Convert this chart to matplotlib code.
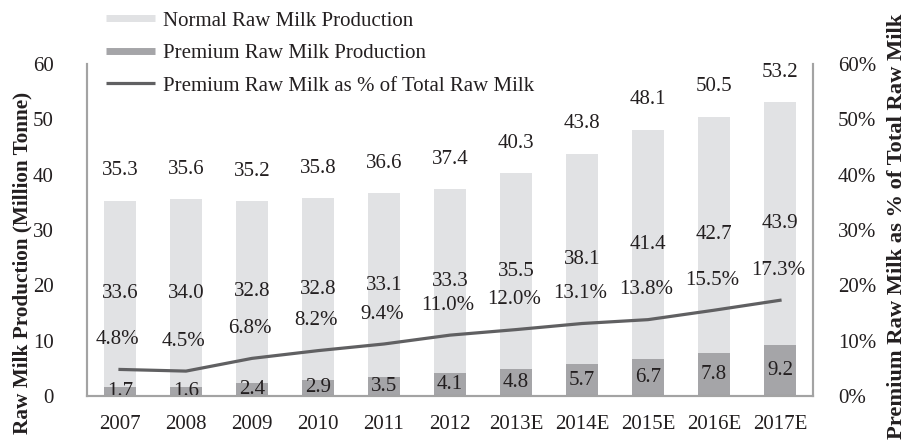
import matplotlib
matplotlib.use("Agg")
import matplotlib.pyplot as plt
from matplotlib.lines import Line2D
import numpy as np

years = ["2007", "2008", "2009", "2010", "2011", "2012",
         "2013E", "2014E", "2015E", "2016E", "2017E"]
premium = [1.7, 1.6, 2.4, 2.9, 3.5, 4.1, 4.8, 5.7, 6.7, 7.8, 9.2]
normal = [33.6, 34.0, 32.8, 32.8, 33.1, 33.3, 35.5, 38.1, 41.4, 42.7, 43.9]
totals = [35.3, 35.6, 35.2, 35.8, 36.6, 37.4, 40.3, 43.8, 48.1, 50.5, 53.2]
premium_share = [4.8, 4.5, 6.8, 8.2, 9.4, 11.0, 12.0, 13.1, 13.8, 15.5, 17.3]

plt.rcParams["font.family"] = ["Liberation Serif", "DejaVu Serif"]
TXT = "#231f20"
FS = 15
C_NORMAL = "#e1e2e4"
C_PREMIUM = "#a5a5a8"
C_LINE = "#606062"
C_SPINE = "#a3a3a3"

fig = plt.figure(figsize=(9.07, 4.47), dpi=100)
ax = fig.add_axes([87 / 907, 1 - 396 / 447, (813 - 87) / 907, (396 - 64) / 447])
ax2 = ax.twinx()

x = np.arange(len(years))
w = 0.48
ax.bar(x, premium, width=w, color=C_PREMIUM, zorder=2)
ax.bar(x, normal, width=w, bottom=premium, color=C_NORMAL, zorder=2)

ax.set_xlim(-0.5, len(years) - 0.5)
ax.set_ylim(0, 60)
ax.set_yticks(range(0, 61, 10))
ax.set_xticks(x)
ax.set_xticklabels(years)
ax.tick_params(axis="both", length=0, labelsize=FS, colors=TXT)
ax.tick_params(axis="y", pad=24)
ax.tick_params(axis="x", pad=14)

ax2.plot(x, premium_share, color=C_LINE, lw=2.3, zorder=3)
ax2.set_ylim(0, 60)
ax2.set_yticks(range(0, 61, 10))
ax2.set_yticklabels([f"{v}%" for v in range(0, 61, 10)])
ax2.tick_params(axis="y", length=0, labelsize=FS, colors=TXT, pad=18)

for a in (ax, ax2):
    a.spines["top"].set_visible(False)
    for s in ("left", "right", "bottom"):
        a.spines[s].set_color(C_SPINE)
        a.spines[s].set_linewidth(1.5)

# value labels
for i in range(len(years)):
    top = premium[i] + normal[i]
    ax.annotate(f"{totals[i]:.1f}", (x[i], top), xytext=(0, 21.5),
                textcoords="offset points", ha="center", va="center",
                fontsize=FS, color=TXT, zorder=4)
    ax.text(x[i], premium[i] + normal[i] / 2, f"{normal[i]:.1f}",
            ha="center", va="center", fontsize=FS, color=TXT, zorder=4)
    ax.text(x[i], premium[i] / 2, f"{premium[i]:.1f}",
            ha="center", va="center", fontsize=FS, color=TXT, zorder=4)
    ax2.annotate(f"{premium_share[i]:.1f}%", (x[i], premium_share[i]),
                 xytext=(-1.5, 21.5), textcoords="offset points",
                 ha="center", va="center", fontsize=FS, color=TXT, zorder=4)

fig.text(22 / 907, 1 - 263 / 447, "Raw Milk Production (Million Tonne)",
         rotation=90, ha="center", va="center", fontsize=15.3,
         fontweight="bold", color=TXT)
fig.text(897 / 907, 1 - 226 / 447, "Premium Raw Milk as % of Total Raw Milk",
         rotation=90, ha="center", va="center", fontsize=16.2,
         fontweight="bold", color=TXT)

handles = [
    Line2D([], [], color=C_NORMAL, lw=5, solid_capstyle="butt"),
    Line2D([], [], color=C_PREMIUM, lw=5, solid_capstyle="butt"),
    Line2D([], [], color=C_LINE, lw=2.3, solid_capstyle="butt"),
]
labels = ["Normal Raw Milk Production", "Premium Raw Milk Production",
          "Premium Raw Milk as % of Total Raw Milk"]
leg = fig.legend(handles, labels, loc="upper left",
                 bbox_to_anchor=(106 / 907, 1 - 11 / 447),
                 frameon=False, fontsize=FS, borderpad=0, borderaxespad=0,
                 handlelength=2.35, handletextpad=0.4, labelspacing=0.62)
for t in leg.get_texts():
    t.set_color(TXT)

fig.savefig("out.png", dpi=100)
